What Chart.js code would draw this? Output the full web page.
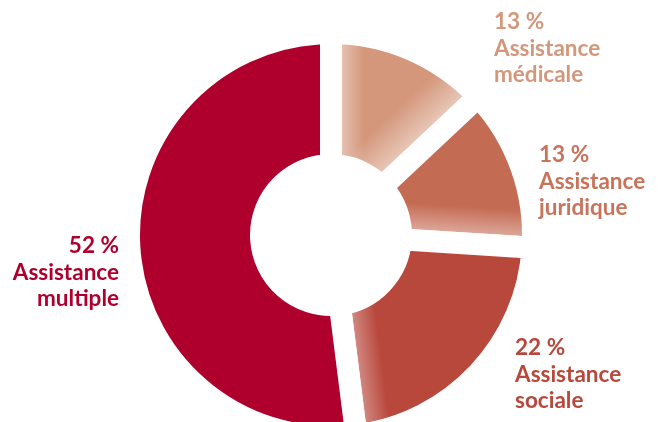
<!DOCTYPE html>
<html>
<head>
<meta charset="utf-8">
<script src="https://cdn.jsdelivr.net/npm/chart.js@4.4.1/dist/chart.umd.min.js"></script>
<style>
  html, body { margin: 0; padding: 0; background: #fff; }
  #wrap { width: 658px; height: 422px; position: relative; }
</style>
</head>
<body>
<div id="wrap"><canvas id="donut"></canvas></div>
<script>
// données (sens horaire depuis midi)
const categories = ['Assistance médicale', 'Assistance juridique', 'Assistance sociale', 'Assistance multiple'];
const parts = [13, 13, 22, 52];

const sliceColors = ['#D4977B', '#C46B53', '#B8473C', '#AF002D'];
const textColors = ['#D4977B', '#C8735A', '#B8473C', '#AF002D'];

// reflets blancs le long des bords de certaines parts
const sliceFades = [
    [{ edge: 'start', width: 22, alpha: 0.4 }, { edge: 'end', width: 36, alpha: 0.45 }],
    [{ edge: 'end', width: 26, alpha: 0.4 }],
    [{ edge: 'end', width: 24, alpha: 0.35 }],
    []
];

// ancrage des étiquettes : x, ligne de base du pourcentage, alignement
const labelAnchors = [
    [494, 29, 'left'],
    [539, 162, 'left'],
    [515, 355, 'left'],
    [119, 253, 'right']
];
const lineGap = 26.5;
const gap = 22;

const fillCache = {};

function sliceFill(context) {
    const chart = context.chart;
    const i = context.dataIndex;
    const area = chart.chartArea;
    if (!area || !sliceFades[i] || !sliceFades[i].length) return sliceColors[i];

    const key = i + ':' + chart.width + 'x' + chart.height;
    if (fillCache[key]) return fillCache[key];

    const off = document.createElement('canvas');
    off.width = chart.width;
    off.height = chart.height;
    const g = off.getContext('2d');
    g.fillStyle = sliceColors[i];
    g.fillRect(0, 0, off.width, off.height);

    const cx = (area.left + area.right) / 2;
    const cy = (area.top + area.bottom) / 2;
    const total = parts.reduce((a, b) => a + b, 0);
    const startDeg = parts.slice(0, i).reduce((a, b) => a + b, 0) / total * 360;
    const endDeg = startDeg + parts[i] / total * 360;

    sliceFades[i].forEach(f => {
        const deg = f.edge === 'start' ? startDeg : endDeg;
        const s = f.edge === 'start' ? 1 : -1;
        const t = deg * Math.PI / 180;
        const nx = s * Math.cos(t);
        const ny = s * Math.sin(t);
        const d0 = gap / 2;
        const d1 = gap / 2 + f.width;
        const grad = g.createLinearGradient(cx + nx * d0, cy + ny * d0, cx + nx * d1, cy + ny * d1);
        grad.addColorStop(0, `rgba(255,255,255,${f.alpha})`);
        grad.addColorStop(1, 'rgba(255,255,255,0)');
        g.fillStyle = grad;
        g.fillRect(0, 0, off.width, off.height);
    });

    const pat = chart.ctx.createPattern(off, 'no-repeat');
    fillCache[key] = pat;
    return pat;
}

const labelPlugin = {
    id: 'sliceLabels',
    afterDraw(chart) {
        const ctx = chart.ctx;
        ctx.save();
        ctx.font = 'bold 22.5px Lato';
        ctx.textBaseline = 'alphabetic';
        categories.forEach((cat, i) => {
            const [x, y, align] = labelAnchors[i];
            ctx.textAlign = align;
            ctx.fillStyle = textColors[i];
            const lines = [parts[i] + '\u202F%', ...cat.split(' ')];
            lines.forEach((ln, k) => ctx.fillText(ln, x, y + k * lineGap));
        });
        ctx.restore();
    }
};

const chart = new Chart(document.getElementById('donut').getContext('2d'), {
    type: 'doughnut',
    data: {
        labels: categories,
        datasets: [{
            data: parts,
            backgroundColor: sliceFill,
            borderColor: '#ffffff',
            borderWidth: gap,
            borderAlign: 'center',
            hoverOffset: 0,
            radius: 202,
            cutout: '34.65%',
            clip: false
        }]
    },
    options: {
        responsive: true,
        maintainAspectRatio: false,
        animation: false,
        layout: { padding: { left: 4, right: 0, top: 48, bottom: 0 } },
        plugins: {
            legend: { display: false },
            tooltip: { enabled: false }
        }
    },
    plugins: [labelPlugin]
});
</script>
</body>
</html>
